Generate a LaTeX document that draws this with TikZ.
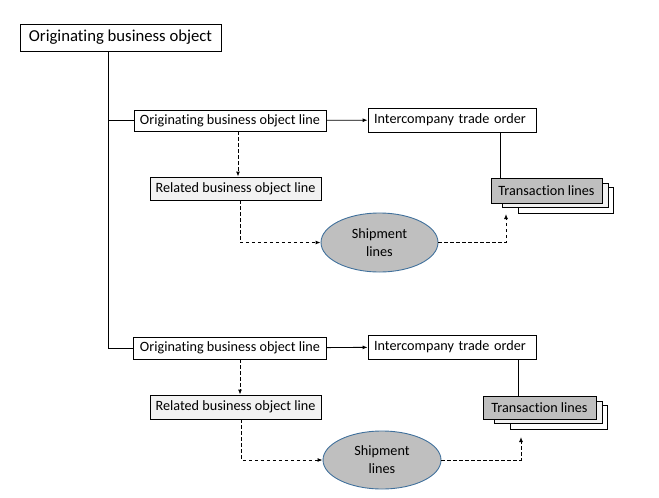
\documentclass[tikz,border=0pt]{standalone}
\usepackage{fontspec}
\setmainfont{Carlito}[Ligatures=NoCommon]
\usetikzlibrary{calc}
\usetikzlibrary{arrows.meta}
\usetikzlibrary{shapes.geometric}
\usetikzlibrary{backgrounds}

\definecolor{lightbox}{HTML}{F2F2F2}
\definecolor{midgray}{HTML}{BFBFBF}
\definecolor{ringblue}{HTML}{41719C}

\tikzset{
  box/.style={draw=black, line width=.9pt, fill=white, inner sep=0pt, font=\fontsize{14.2}{17}\selectfont},
  relbox/.style={box, fill=lightbox},
  tranbox/.style={box, fill=midgray},
  shipment/.style={ellipse, draw=ringblue, line width=.9pt, fill=midgray, inner sep=0pt, align=center, font=\fontsize{14.2}{18}\selectfont},
  link/.style={line width=.9pt, -{Latex[length=5pt,width=4pt]}},
  flow/.style={line width=.9pt, dash pattern=on 3.5pt off 2.5pt, -{Latex[length=5pt,width=4pt]}},
}

\begin{document}
\begin{tikzpicture}[x=1pt, y=-1pt]
\useasboundingbox (0,0) rectangle (659,498);

\node[box, minimum width=201pt, minimum height=27pt, font=\fontsize{16.7}{20}\selectfont] (obj) at (120.5,37.5) {Originating business object};
\coordinate (trunk) at (108,51);

% first line
\node[box, minimum width=192pt, minimum height=21pt] (oline1) at (230,120.5) {Originating business object line};
\node[box, minimum height=24pt, text width=156pt, inner xsep=6pt, align=left] (ico1) at (452,120) {Intercompany trade order};
\node[relbox, minimum width=171pt, minimum height=23pt] (rel1) at (235.5,188.5) {Related business object line};
\node[shipment, minimum width=117pt, minimum height=59pt] (ship1) at (379.5,242.5) {Shipment\\lines};
\node[tranbox, minimum width=111pt, minimum height=25pt] (tl1) at (546.5,190.5) {Transaction lines};
\coordinate (in1) at (506,214);

% second line
\node[box, minimum width=193pt, minimum height=22pt] (oline2) at (230,348) {Originating business object line};
\node[box, minimum height=24pt, text width=156pt, inner xsep=6pt, align=left] (ico2) at (452,347) {Intercompany trade order};
\node[relbox, minimum width=171pt, minimum height=24pt] (rel2) at (235.5,407) {Related business object line};
\node[shipment, minimum width=118pt, minimum height=58pt] (ship2) at (382,460) {Shipment\\lines};
\node[tranbox, minimum width=113pt, minimum height=23pt] (tl2) at (539.5,407.5) {Transaction lines};
\coordinate (in2) at (521,437);

% stacked copies behind the transaction lines
\begin{scope}[on background layer]
\foreach \t in {tl1, tl2} {
  \draw[line width=.9pt, fill=white] ($(\t.north west)+(28,10)$) rectangle ($(\t.south east)+(11,10)$);
  \draw[line width=.9pt, fill=lightbox] ($(\t.north west)+(12,6)$) rectangle ($(\t.south east)+(6,4)$);
}
\end{scope}

\draw[line width=.9pt] (trunk) |- (oline2);
\draw[line width=.9pt] (trunk |- oline1) -- (oline1);

\draw[link] (oline1) -- (ico1);
\draw[link] (oline2) -- (ico2);

\draw[line width=.9pt] (tl1.north west) ++(10,0) coordinate (up1) -- (up1 |- ico1.south);
\draw[line width=.9pt] (tl2.north west) ++(36,0) coordinate (up2) -- (up2 |- ico2.south);

\draw[flow] (oline1.south) ++(8,0) coordinate (d1) -- (d1 |- rel1.north);
\draw[flow] (oline2.south) ++(10,0) coordinate (d2) -- (d2 |- rel2.north);

\draw[flow] (rel1.south) ++(4.5,0) |- (ship1.west);
\draw[flow] (rel2.south) ++(6,0) |- (ship2.west);

\draw[flow] (ship1.east) -| (in1);
\draw[flow] (ship2.east) -| (in2);

\end{tikzpicture}
\end{document}
